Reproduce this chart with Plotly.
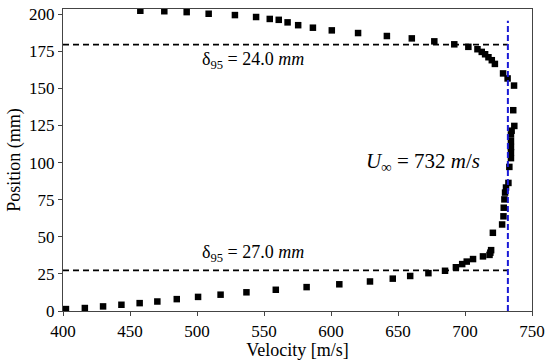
import plotly.graph_objects as go

velocity = [402.2, 416.3, 429.9, 443.6, 457.2, 470.4, 484.9, 500.8, 517.6, 536.9,
            558.8, 581.8, 606.2, 629.1, 646.1, 659.1, 672.7, 685.1, 693.2, 697.9,
            701.3, 706.0, 713.4, 718.3, 718.9, 719.5, 720.8, 727.7, 728.7, 728.9,
            729.4, 729.9, 730.6, 732.4, 733.1, 734.3, 734.3, 734.3, 734.3, 734.3,
            734.8, 736.8, 736.0, 736.6, 731.8, 728.4, 722.3, 720.0, 717.5, 715.0,
            712.5, 709.3, 702.5, 692.0, 677.1, 660.3, 641.7, 620.2, 600.6, 586.5,
            575.5, 567.6, 561.0, 554.3, 544.1, 528.3, 508.7, 492.3, 475.6, 457.7]
position = [1.3, 2.0, 3.1, 4.2, 5.3, 6.4, 8.0, 9.5, 11.0, 12.6,
            14.3, 16.1, 18.0, 19.9, 21.8, 23.6, 25.5, 27.1, 29.5, 31.6,
            33.3, 35.0, 36.8, 37.8, 39.3, 41.0, 52.7, 58.3, 63.8, 69.6,
            75.2, 79.8, 83.2, 86.3, 97.1, 103.0, 107.0, 110.5, 114.5, 118.9,
            121.5, 124.7, 135.3, 151.9, 156.7, 160.1, 166.5, 169.0, 171.0, 173.0,
            174.6, 176.4, 178.0, 179.7, 181.7, 183.7, 185.3, 187.3, 189.1, 190.9,
            192.6, 194.5, 196.2, 196.8, 198.1, 199.4, 200.3, 201.4, 202.0, 202.3]

u_inf = 732
delta_top = 179.5
delta_bottom = 27.4
x_min, x_max = 400, 750
y_top_blue = 195.5
x_ticks = [400, 450, 500, 550, 600, 650, 700, 750]
y_ticks = [0, 25, 50, 75, 100, 125, 150, 175, 200]

serif = "Liberation Serif"

fig = go.Figure()
fig.add_trace(go.Scatter(x=[x_min, u_inf], y=[delta_top, delta_top], mode="lines",
                         line=dict(color="black", width=1.6, dash="6px,4px"), showlegend=False))
fig.add_trace(go.Scatter(x=[x_min, u_inf], y=[delta_bottom, delta_bottom], mode="lines",
                         line=dict(color="black", width=1.6, dash="6px,4px"), showlegend=False))
fig.add_trace(go.Scatter(x=velocity, y=position, mode="markers",
                         marker=dict(symbol="square", size=6.5, color="black"), showlegend=False))
fig.add_trace(go.Scatter(x=[u_inf, u_inf], y=[0, y_top_blue], mode="lines",
                         line=dict(color="#1a1ad6", width=2, dash="6px,3px"), showlegend=False))

fig.add_annotation(x=542, y=168.9, text="δ<sub>95</sub> = 24.0 <i>mm</i>", showarrow=False,
                   font=dict(family=serif, size=18, color="black"))
fig.add_annotation(x=542, y=38.7, text="δ<sub>95</sub> = 27.0 <i>mm</i>", showarrow=False,
                   font=dict(family=serif, size=18, color="black"))
fig.add_annotation(x=669, y=100.5, text="<i>U</i><sub>∞</sub> = 732 <i>m</i>/<i>s</i>", showarrow=False,
                   font=dict(family=serif, size=21, color="black"))

axis_common = dict(showgrid=False, zeroline=False, showline=True, linecolor="#444", linewidth=1.2,
                   mirror=True, ticks="outside", ticklen=4, tickcolor="#444",
                   tickfont=dict(family=serif, size=17, color="black"))
fig.update_xaxes(range=[x_min, x_max], tickvals=x_ticks,
                 title=dict(text="Velocity [m/s]", font=dict(family=serif, size=18, color="black"), standoff=3),
                 **axis_common)
fig.update_yaxes(range=[0, 203.5], tickvals=y_ticks,
                 title=dict(text="Position (mm)", font=dict(family=serif, size=18, color="black"), standoff=3),
                 **axis_common)
fig.update_layout(width=550, height=364, margin=dict(l=63, r=16, t=5, b=53),
                  plot_bgcolor="white", paper_bgcolor="white",
                  font=dict(family=serif, color="black"))
fig.write_html("out.html", config={"displayModeBar": False},
               post_script="document.body.style.margin='0';")
